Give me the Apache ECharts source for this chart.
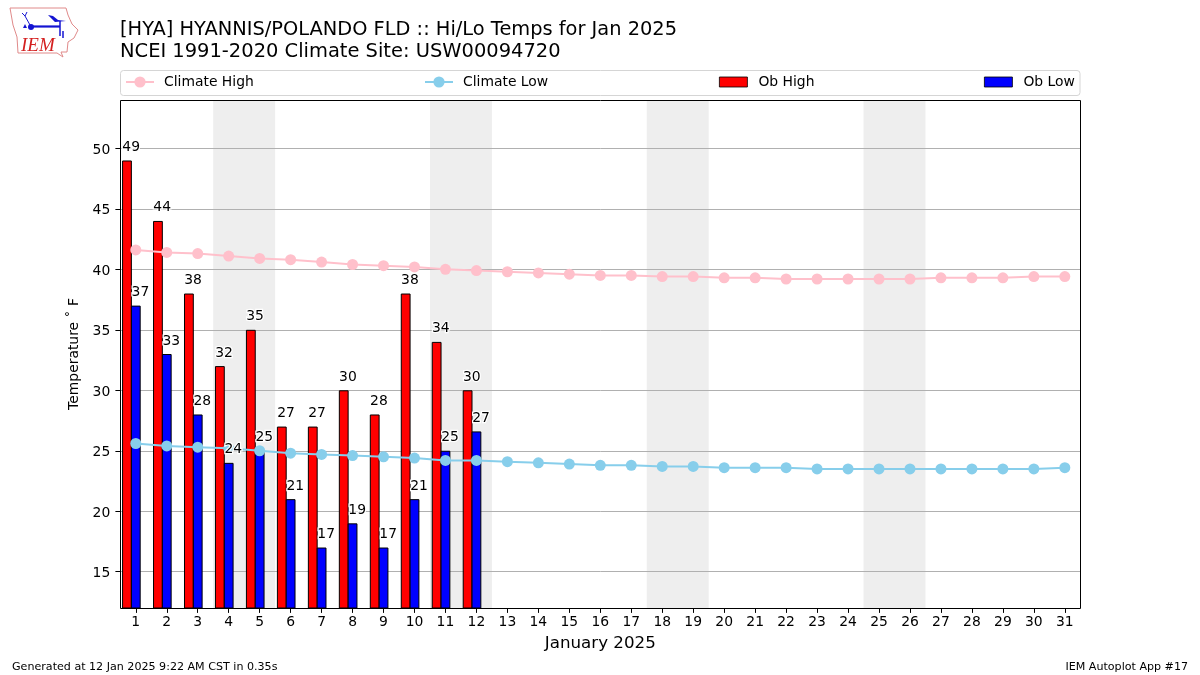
<!DOCTYPE html>
<html><head><meta charset="utf-8">
<style>html,body{margin:0;padding:0;background:#fff}#c{width:1200px;height:675px}</style>
<script src="https://cdn.jsdelivr.net/npm/echarts@6/dist/echarts.min.js"></script>
</head><body><div id="c"></div>
<script>
const days = ['1','2','3','4','5','6','7','8','9','10','11','12','13','14','15','16','17','18','19','20','21','22','23','24','25','26','27','28','29','30','31'];
const yTicks = [15,20,25,30,35,40,45,50];
const climateHigh = [41.6,41.4,41.3,41.1,40.9,40.8,40.6,40.4,40.3,40.2,40.0,39.9,39.8,39.7,39.6,39.5,39.5,39.4,39.4,39.3,39.3,39.2,39.2,39.2,39.2,39.2,39.3,39.3,39.3,39.4,39.4];
const climateLow = [25.6,25.4,25.3,25.2,25.0,24.8,24.7,24.6,24.5,24.4,24.2,24.2,24.1,24.0,23.9,23.8,23.8,23.7,23.7,23.6,23.6,23.6,23.5,23.5,23.5,23.5,23.5,23.5,23.5,23.5,23.6];
const obHigh = [49,44,38,32,35,27,27,30,28,38,34,30];
const obLow = [37,33,28,24,25,21,17,19,17,21,25,26.6];
const weekends = [[3.5,5.5],[10.5,12.5],[17.5,19.5],[24.5,26.5]];

const FONT = '"DejaVu Sans", sans-serif';
const BLUE = '#1414d2';
const labelSeries = (name, values, dx) => ({
  name, type: 'scatter', data: values, z: 6, symbolSize: 1, silent: true,
  itemStyle: { color: 'transparent', opacity: 1 },
  label: {
    show: true, position: 'top', distance: 5, offset: [dx, -0.6],
    fontFamily: FONT, fontSize: 13.9, color: '#000', opacity: 1,
    textBorderColor: '#fff', textBorderWidth: 2.5,
    formatter: p => String(Math.round(p.value))
  }
});
const legendItem = (name, left, opts) => Object.assign({
  data: [name], left, top: 75, orient: 'horizontal', padding: 0, itemGap: 0,
  itemWidth: 28, itemHeight: 14, selectedMode: false,
  textStyle: { fontFamily: FONT, fontSize: 13.9, color: '#000', padding: [0,0,0,5] }
}, opts || {});
const titleStyle = size => ({ fontFamily: FONT, fontSize: size, fontWeight: 'normal', color: '#000' });
const barLegend = { icon: 'rect', itemHeight: 10, itemStyle: { borderWidth: 0.8, borderColor: '#000' },
  textStyle: { fontFamily: FONT, fontSize: 13.9, color: '#000', padding: [0,0,0,6] } };

const chart = echarts.init(document.getElementById('c'), null, { renderer: 'canvas' });
chart.setOption({
  animation: false,
  backgroundColor: '#fff',
  title: [
    { text: '[HYA] HYANNIS/POLANDO FLD :: Hi/Lo Temps for Jan 2025', left: 120, top: 20, padding: 0, textStyle: titleStyle(19.4) },
    { text: 'NCEI 1991-2020 Climate Site: USW00094720', left: 120, top: 42, padding: 0, textStyle: titleStyle(19.47) },
    { text: 'Generated at 12 Jan 2025 9:22 AM CST in 0.35s', left: 12, top: 662, padding: 0, textStyle: titleStyle(11.1) },
    { text: 'IEM Autoplot App #17', right: 12, top: 662, padding: 0, textStyle: titleStyle(11.1) }
  ],
  legend: [
    legendItem('Climate High', 125),
    legendItem('Climate Low', 424),
    legendItem('Ob High', 719, barLegend),
    legendItem('Ob Low', 984, barLegend)
  ],
  grid: { left: 120.3, right: 119.7, top: 100, bottom: 67, show: false, containLabel: false },
  xAxis: [
    { type: 'category', data: days, boundaryGap: true, name: 'January 2025', nameLocation: 'middle', nameGap: 27,
      nameTextStyle: { fontFamily: FONT, fontSize: 16.7, color: '#000' },
      axisLine: { show: false },
      axisTick: { show: true, alignWithLabel: true, length: 4.9, lineStyle: { color: '#000' } },
      axisLabel: { fontFamily: FONT, fontSize: 13.9, color: '#000', margin: 7, interval: 0 } },
    { type: 'value', min: 0.5, max: 31.5, show: false }
  ],
  yAxis: {
    type: 'value', min: 12, max: 54, name: 'Temperature ˚ F',
    nameLocation: 'middle', nameGap: 33,
    nameTextStyle: { fontFamily: FONT, fontSize: 13.9, color: '#000' },
    axisLine: { show: false },
    axisTick: { show: true, length: 4.9, lineStyle: { color: '#000' }, customValues: yTicks },
    axisLabel: { fontFamily: FONT, fontSize: 13.9, color: '#000', margin: 10, verticalAlign: 'top', lineHeight: 4, customValues: yTicks },
    splitLine: { show: true, lineStyle: { color: '#b0b0b0', width: 1 } }
  },
  series: [
    { name: 'weekend', type: 'custom', xAxisIndex: 1, z: -1, silent: true, data: weekends, encode: { x: [0,1] },
      renderItem: (params, api) => {
        const a = api.coord([api.value(0), 54]), b = api.coord([api.value(1), 12]);
        return { type: 'rect', shape: { x: a[0], y: a[1], width: b[0]-a[0], height: b[1]-a[1] }, style: { fill: '#eeeeee' } };
      } },
    { name: 'Ob High', type: 'bar', data: obHigh, barWidth: 9.8, barGap: '-10%', z: 2,
      itemStyle: { color: '#ff0000', borderColor: '#000', borderWidth: 1 } },
    { name: 'Ob Low', type: 'bar', data: obLow, barWidth: 9.8, barGap: '-10%', z: 2,
      itemStyle: { color: '#0000ff', borderColor: '#000', borderWidth: 1 } },
    { name: 'spacer', type: 'bar', data: [], barWidth: 9.8, barGap: '-10%' },
    { name: 'Climate High', type: 'line', data: climateHigh, z: 3, symbol: 'circle', symbolSize: 11,
      lineStyle: { color: '#ffc0cb', width: 2 }, itemStyle: { color: '#ffc0cb' } },
    { name: 'Climate Low', type: 'line', data: climateLow, z: 3, symbol: 'circle', symbolSize: 11,
      lineStyle: { color: '#87ceeb', width: 2 }, itemStyle: { color: '#87ceeb' } },
    labelSeries('Ob High labels', obHigh, -4.6),
    labelSeries('Ob Low labels', obLow, 4.6)
  ],
  graphic: [
    { type: 'rect', z: -5, shape: { x: 120.5, y: 70.5, width: 959.5, height: 25, r: 3 }, style: { fill: '#fff', stroke: '#d5d5d5', lineWidth: 1 } },
    { type: 'rect', z: 4, silent: true, shape: { x: 120.5, y: 100.5, width: 960, height: 508 }, style: { fill: 'none', stroke: '#000', lineWidth: 1 } },
    { type: 'polyline', z: 5, shape: { points: [[10,8],[66,8],[68,15],[72,24],[78,30],[74,38],[68,42],[67,52],[61,52],[63,57],[57,53],[18,53],[17,37],[13,25],[10,8]] }, style: { fill: 'none', stroke: '#e08a8a', lineWidth: 1 } },
    { type: 'polyline', z: 5, shape: { points: [[31,26.5],[60,26.5]] }, style: { stroke: BLUE, lineWidth: 2.2, fill: 'none' } },
    { type: 'polyline', z: 5, shape: { points: [[60,21],[60,36]] }, style: { stroke: BLUE, lineWidth: 1.5, fill: 'none' } },
    { type: 'polyline', z: 5, shape: { points: [[63,31],[63,38]] }, style: { stroke: BLUE, lineWidth: 1.5, fill: 'none' } },
    { type: 'polygon', z: 5, shape: { points: [[48,15],[53,16],[58,20],[66,21],[55,22]] }, style: { fill: BLUE } },
    { type: 'polyline', z: 5, shape: { points: [[25,16],[30,25]] }, style: { stroke: BLUE, lineWidth: 1, fill: 'none' } },
    { type: 'polyline', z: 5, shape: { points: [[22,13],[25,16],[27,12]] }, style: { stroke: BLUE, lineWidth: 1, fill: 'none' } },
    { type: 'circle', z: 5, shape: { cx: 31, cy: 27, r: 3 }, style: { fill: BLUE } },
    { type: 'polygon', z: 5, shape: { points: [[25,24],[27,28],[23,28]] }, style: { fill: BLUE } },
    { type: 'text', z: 5, left: 21, top: 36, style: { text: 'IEM', fill: '#d42020', font: 'italic 19px "Liberation Serif", serif' } }
  ]
});
</script></body></html>
